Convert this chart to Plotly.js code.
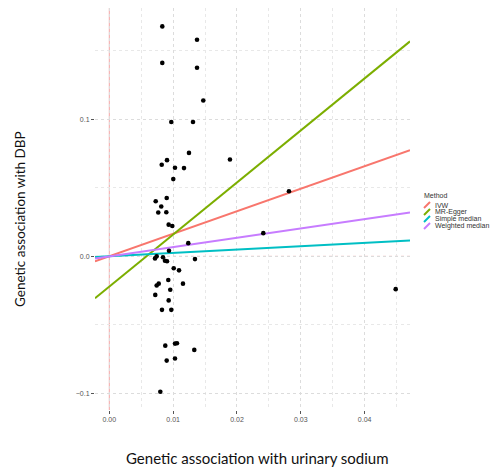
<!DOCTYPE html>
<html>
<head>
<meta charset="utf-8">
<script src="https://cdn.plot.ly/plotly-3.0.1.min.js"></script>
<style>html,body{margin:0;padding:0;background:#fff;}#chart{width:492px;height:470px;}</style>
</head>
<body>
<div id="chart"></div>
<script>
// SNP associations: urinary sodium (x) vs DBP (y)
const snpX = [0.00830,0.01374,0.00830,0.01374,0.01472,0.00971,0.01311,0.01248,0.01890,0.00821,
  0.00904,0.01029,0.01170,0.01002,0.00727,0.00899,0.00814,0.00767,0.00893,0.00930,
  0.00987,0.01237,0.00935,0.00716,0.00742,0.00841,0.00872,0.00904,0.01342,0.01009,
  0.01092,0.00924,0.01154,0.00774,0.00742,0.00955,0.00720,0.00930,0.00825,0.00971,
  0.00877,0.01029,0.01060,0.01331,0.00899,0.01029,0.00799,0.02814,0.02412,0.04486];
const snpY = [0.1676,0.1579,0.1410,0.1375,0.1136,0.0979,0.0979,0.0754,0.0706,0.0667,
  0.0701,0.0646,0.0643,0.0563,0.0401,0.0425,0.0363,0.0319,0.0321,0.0231,
  0.0221,0.0096,0.0041,-0.0015,0.0000,-0.0007,-0.0032,-0.0036,-0.0020,-0.0087,
  -0.0102,-0.0172,-0.0199,-0.0199,-0.0213,-0.0244,-0.0281,-0.0321,-0.0390,-0.0390,
  -0.0651,-0.0636,-0.0633,-0.0682,-0.0760,-0.0745,-0.0987,0.0474,0.0169,-0.0239];

// MR method fits
const methods = ["IVW","MR-Egger","Simple median","Weighted median"];
const slopes = [1.641, 3.794, 0.246, 0.678];
const intercepts = [0, -0.0220, 0, 0];
const colors = ["#F8766D","#7CAE00","#00BFC4","#C77CFF"];

const xRange = [-0.00224, 0.0471];
const yRange = [-0.112, 0.181];

const traces = [];
methods.forEach((m,i)=>{
  traces.push({
    type:'scatter', mode:'lines', name:m, showlegend:false,
    x:[xRange[0], xRange[1]],
    y:[intercepts[i]+slopes[i]*xRange[0], intercepts[i]+slopes[i]*xRange[1]],
    line:{color:colors[i], width:2}, hoverinfo:'skip'
  });
});
traces.push({
  type:'scatter', mode:'markers', name:'SNPs', showlegend:false,
  x:snpX, y:snpY, marker:{color:'#000', size:4.6}
});

// custom ggplot-style legend
const L = 95, R = 410, T = 8, B = 410;
const px = v => (v - L)/(R - L);
const py = v => (B - v)/(B - T);
const shapes = [
  {type:'line', xref:'x', yref:'paper', x0:0, x1:0, y0:0, y1:1, line:{color:'#f4a6a6', width:1}, layer:'below'},
  {type:'line', xref:'paper', yref:'y', x0:0, x1:1, y0:0, y1:0, line:{color:'#f4a6a6', width:1, dash:'dot'}, layer:'below'}
];
const annotations = [
  {xref:'paper', yref:'paper', x:px(422), y:py(195), xanchor:'left', yanchor:'middle', text:'Method', showarrow:false, font:{size:7, color:'#333', family:'Liberation Sans, Arial'}},
  {xref:'paper', yref:'paper', x:px(257), y:py(458), xanchor:'center', yanchor:'middle', text:'Genetic association with urinary sodium', showarrow:false, font:{size:15, color:'#111', family:'Lato, Liberation Sans, Arial'}},
  {xref:'paper', yref:'paper', x:px(20), y:py(219), xanchor:'center', yanchor:'middle', textangle:-90, text:'Genetic association with DBP', showarrow:false, font:{size:13.5, color:'#111', family:'Lato, Liberation Sans, Arial'}}
];
const itemY = [205, 212, 219, 226];
methods.forEach((m,i)=>{
  shapes.push({type:'line', xref:'paper', yref:'paper', x0:px(424), x1:px(430), y0:py(itemY[i]+3), y1:py(itemY[i]-3), line:{color:colors[i], width:2}});
  annotations.push({xref:'paper', yref:'paper', x:px(433), y:py(itemY[i]), xanchor:'left', yanchor:'middle', text:m, showarrow:false, font:{size:7, color:'#333', family:'Liberation Sans, Arial'}});
});

const layout = {
  width:492, height:470,
  margin:{l:L, r:492-R, t:T, b:470-B},
  paper_bgcolor:'#fff', plot_bgcolor:'#fff',
  showlegend:false,
  font:{family:'Lato, Liberation Sans, Arial', color:'#000'},
  xaxis:{
    range:xRange, dtick:0.01, tick0:0, tickformat:'.2f',
    showgrid:true, gridcolor:'#dcdcdc', griddash:'dot', gridwidth:1,
    minor:{dtick:0.005, tick0:0, showgrid:true, gridcolor:'#e8e8e8', griddash:'dot', ticks:''},
    zeroline:false, showline:false,
    ticks:'outside', ticklen:3, tickcolor:'#555', tickwidth:1,
    tickfont:{size:7, color:'#555', family:'Liberation Sans, Arial'}
  },
  yaxis:{
    range:yRange, dtick:0.1, tick0:0, tickformat:'.1f',
    showgrid:true, gridcolor:'#dcdcdc', griddash:'dot', gridwidth:1,
    minor:{dtick:0.05, tick0:0, showgrid:true, gridcolor:'#e8e8e8', griddash:'dot', ticks:''},
    zeroline:false, showline:false,
    ticks:'outside', ticklen:3, tickcolor:'#555', tickwidth:1,
    tickfont:{size:7, color:'#555', family:'Liberation Sans, Arial'}
  },
  shapes:shapes,
  annotations:annotations
};

Plotly.newPlot('chart', traces, layout, {displayModeBar:false, staticPlot:true});
</script>
</body>
</html>
